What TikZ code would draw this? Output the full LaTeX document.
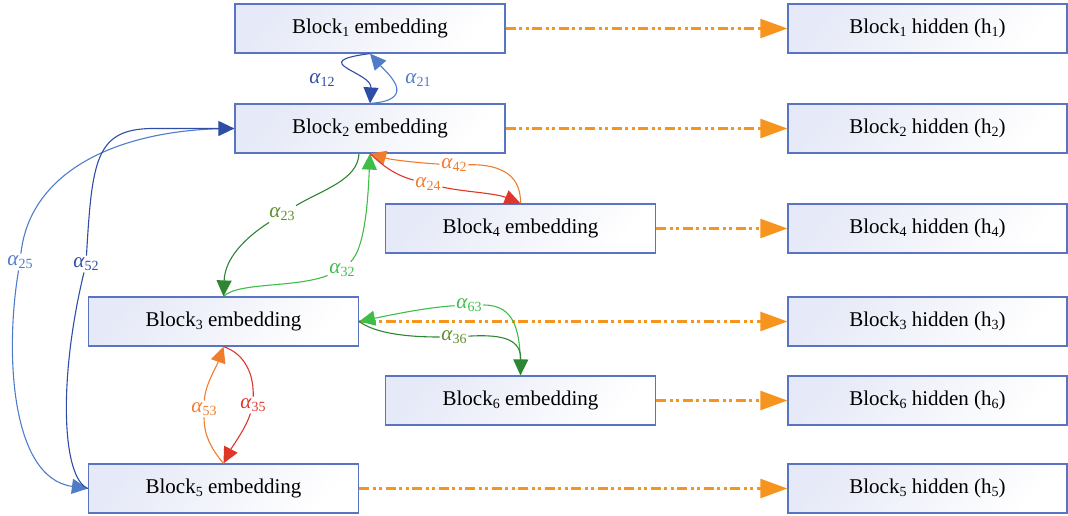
\documentclass[tikz,border=0pt]{standalone}
\usepackage{fontspec}
\setmainfont{Liberation Serif}
\usetikzlibrary{arrows.meta}

\definecolor{boxline}{HTML}{5A74C4}
\definecolor{boxfill}{HTML}{E6E9F7}
\definecolor{feedor}{HTML}{F7941D}
\definecolor{dblue}{HTML}{2F4DA6}
\definecolor{lblue}{HTML}{4F7CC9}
\definecolor{dgreen}{HTML}{2E8532}
\definecolor{lgreen}{HTML}{3EBE48}
\definecolor{olivegr}{HTML}{5F8F2E}
\definecolor{orng}{HTML}{F07C2E}
\definecolor{rd}{HTML}{E0362A}

% lowered small index, e.g. Block_1
\newcommand{\lsub}[1]{\raisebox{-0.14em}{\fontsize{14}{14}\selectfont #1}}
% attention weight alpha_ij
\newcommand{\alw}[1]{\textit{α}\raisebox{-0.16em}{\fontsize{14}{14}\selectfont #1}}

\tikzset{
  x=1pt, y=-1pt,
  block/.style={draw=boxline, line width=1.2pt, top color=boxfill, bottom color=white,
    shading angle=50, minimum height=49pt, inner sep=0pt,
    font=\fontsize{21}{25}\selectfont},
  emb/.style={block, minimum width=270pt},
  hid/.style={block, minimum width=279pt},
  feed/.style={draw=feedor, line width=2.4pt,
    dash pattern=on 10pt off 3.5pt on 3pt off 3.5pt on 3pt off 3.5pt,
    -{Triangle[length=27pt,width=19pt]}},
  conn/.style={line width=1.1pt},
  att/.style={conn, -{Triangle[length=16pt,width=15pt]}},
  lbl/.style={inner sep=1.5pt, font=\fontsize{21}{22}\selectfont},
}

\begin{document}
\begin{tikzpicture}
\useasboundingbox (0,0) rectangle (1068,515);

% embedding blocks
\node[emb] (b1) at (370,28.5)   {Block\lsub{1} embedding};
\node[emb] (b2) at (370,128.5)  {Block\lsub{2} embedding};
\node[emb] (b4) at (520.5,228.5) {Block\lsub{4} embedding};
\node[emb] (b3) at (223.5,321.5) {Block\lsub{3} embedding};
\node[emb] (b6) at (520.5,400.5) {Block\lsub{6} embedding};
\node[emb] (b5) at (223.5,488.5) {Block\lsub{5} embedding};

% hidden states
\node[hid] (h1) at (927.5,28.5)  {Block\lsub{1} hidden (h\lsub{1})};
\node[hid] (h2) at (927.5,128.5) {Block\lsub{2} hidden (h\lsub{2})};
\node[hid] (h4) at (927.5,228.5) {Block\lsub{4} hidden (h\lsub{4})};
\node[hid] (h3) at (927.5,321.5) {Block\lsub{3} hidden (h\lsub{3})};
\node[hid] (h6) at (927.5,400.5) {Block\lsub{6} hidden (h\lsub{6})};
\node[hid] (h5) at (927.5,488.5) {Block\lsub{5} hidden (h\lsub{5})};

% feed-forward to hidden states
\foreach \i in {1,...,6} \draw[feed] (b\i) -- (h\i);

% attention labels
\node[lbl, text=dblue]   (l12) at (322,80)  {\alw{12}};
\node[lbl, text=lblue]   (l21) at (418,80)  {\alw{21}};
\node[lbl, text=lblue]   (l25) at (20,262)  {\alw{25}};
\node[lbl, text=dblue]   (l52) at (86,264)  {\alw{52}};
\node[lbl, text=olivegr] (l23) at (282,214) {\alw{23}};
\node[lbl, text=lgreen]  (l32) at (342,270) {\alw{32}};
\node[lbl, text=orng]    (l42) at (454,165) {\alw{42}};
\node[lbl, text=orng]    (l24) at (428,184) {\alw{24}};
\node[lbl, text=lgreen]  (l63) at (469,305) {\alw{63}};
\node[lbl, text=olivegr] (l36) at (454,337) {\alw{36}};
\node[lbl, text=orng]    (l53) at (204,409) {\alw{53}};
\node[lbl, text=rd]      (l35) at (253,405) {\alw{35}};

% block 1 <-> block 2
\draw[att, dblue] (b1.south) .. controls (305,62) and (372,72) .. (b2.north);
\draw[att, lblue] (b2.north) .. controls (420,100) and (386,72) .. (b1.south);

% block 2 <-> block 5
\draw[conn, lblue] (b2.west) .. controls (120,128) and (30,170) .. (l25);
\draw[att, lblue] (l25) .. controls (5,350) and (10,478) .. (b5.west);
\draw[conn, dblue] (b5.west) .. controls (62,478) and (58,380) .. (l52);
\draw[att, dblue] (l52) .. controls (92,160) and (96,130) .. (150,128.5) -- (b2.west);

% block 2 <-> block 3
\draw[conn, dgreen] ([xshift=-11pt]b2.south) .. controls (358,180) and (322,190) .. (l23);
\draw[att, dgreen] (l23) .. controls (245,238) and (225,258) .. (b3.north);
\draw[conn, lgreen] (b3.north) .. controls (238,282) and (295,288) .. (l32);
\draw[att, lgreen] (l32) .. controls (365,248) and (368,200) .. (b2.south);

% block 2 <-> block 4
\draw[conn, orng] (b4.north) .. controls (521,178) and (505,164) .. (l42);
\draw[att, orng] (l42) .. controls (420,163) and (392,160) .. (b2.south);
\draw[conn, rd] (b2.south) .. controls (383,166) and (395,175) .. (l24);
\draw[att, rd] (l24) .. controls (465,192) and (495,193) .. (b4.north);

% block 3 <-> block 6
\draw[conn, lgreen] (b6.north) .. controls (521,330) and (515,305) .. (l63);
\draw[att, lgreen] (l63) .. controls (430,307) and (395,314) .. (b3.east);
\draw[conn, dgreen] (b3.east) .. controls (375,333) and (405,337) .. (l36);
\draw[att, dgreen] (l36) .. controls (505,334) and (521,340) .. (b6.north);

% block 3 <-> block 5
\draw[conn, orng] (b5.north) .. controls (214,452) and (204,438) .. (l53);
\draw[att, orng] (l53) .. controls (205,385) and (216,368) .. (b3.south);
\draw[conn, rd] (b3.south) .. controls (240,352) and (254,368) .. (l35);
\draw[att, rd] (l35) .. controls (246,428) and (232,447) .. (b5.north);
\end{tikzpicture}
\end{document}
